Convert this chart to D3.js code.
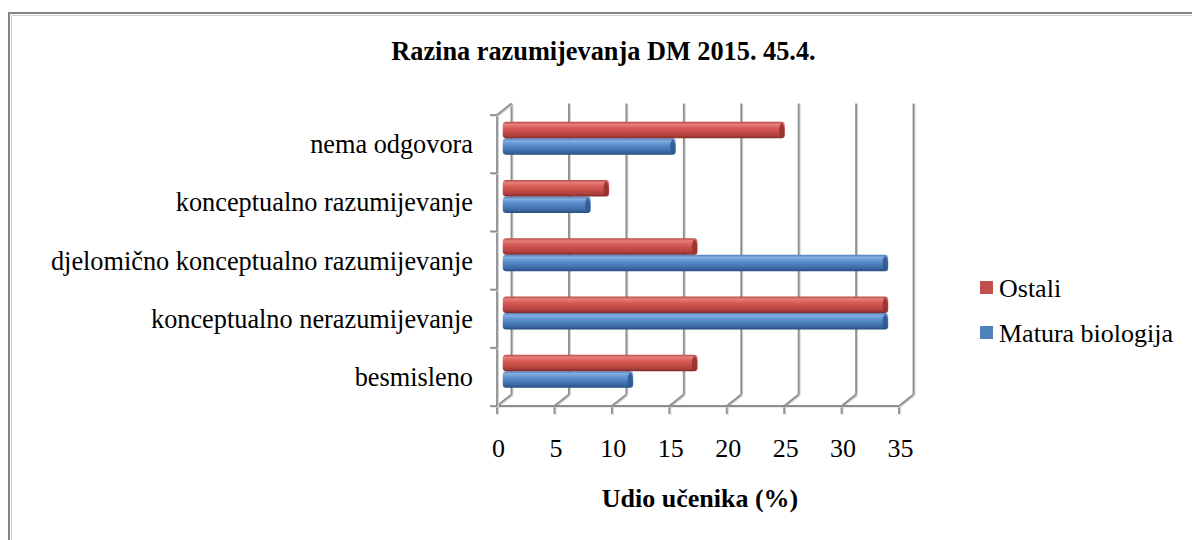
<!DOCTYPE html>
<html>
<head>
<meta charset="utf-8">
<script src="https://cdn.jsdelivr.net/npm/d3@7"></script>
<style>
  html, body { margin: 0; padding: 0; background: #ffffff; }
  svg { display: block; }
  text { font-family: 'Liberation Serif', 'Times New Roman', Times, serif; }
</style>
</head>
<body>
<svg id="chart" width="1192" height="540"></svg>
<script>
// Categories, bottom to top along the vertical axis
const categories = [
  "besmisleno",
  "konceptualno nerazumijevanje",
  "djelomično konceptualno razumijevanje",
  "konceptualno razumijevanje",
  "nema odgovora"
];
// Series values (% of students), same order as categories
const maturaBiologija = [11.1, 33.3, 33.3, 7.4, 14.8];
const ostali = [16.7, 33.3, 16.7, 9.0, 24.3];
const seriesNames = ["Matura biologija", "Ostali"];
const xTicks = [0, 5, 10, 15, 20, 25, 30, 35];

const title = "Razina razumijevanja DM 2015. 45.4.";
const xTitle = "Udio učenika (%)";

const FONT = "'Liberation Serif', 'Times New Roman', Times, serif";

const svg = d3.select("#chart").attr("font-family", FONT);

// outer frame
svg.append("rect")
  .attr("x", 9).attr("y", 13)
  .attr("width", 1200).attr("height", 560)
  .attr("fill", "#fff")
  .attr("stroke", "#858585").attr("stroke-width", 2);
svg.append("path")
  .attr("d", "M11,15.5H1192M11.5,15V540")
  .attr("stroke", "#cfcfcf").attr("stroke-width", 1).attr("fill", "none");

// plot geometry: front plane + depth offset for the back wall
const depth = { dx: 14.5, dy: -11.5 };
const x = d3.scaleLinear().domain([0, 35]).range([497, 899]);
const y = d3.scaleBand().domain(categories).range([406, 115]).padding(0);
const bw = y.bandwidth();
const yInner = d3.scaleBand().domain(seriesNames).range([bw / 2 + 16.5, bw / 2 - 16.5]);

const yTop = y.range()[1], yBot = y.range()[0];

// gradients for the bars (cylinder-like shading)
const defs = svg.append("defs");
const palettes = {
  "Ostali": ["#b84946", "#e5807c", "#da5f5b", "#c94e4a", "#ad403d", "#7f2a28"],
  "Matura biologija": ["#4e80bd", "#86aee0", "#6494d2", "#4b7dbb", "#3a67a0", "#264c7e"]
};
const stops = [0, 0.16, 0.34, 0.6, 0.84, 1];
const gradId = {};
Object.entries(palettes).forEach(([name, cols], i) => {
  const g = defs.append("linearGradient")
    .attr("id", "grad" + i).attr("x1", 0).attr("y1", 0).attr("x2", 0).attr("y2", 1);
  cols.forEach((c, j) => g.append("stop").attr("offset", stops[j]).attr("stop-color", c));
  gradId[name] = "grad" + i;
});
const capColor = { "Ostali": "#932f2c", "Matura biologija": "#2e5890" };
const legendColor = { "Ostali": "#c0504d", "Matura biologija": "#4f81bd" };

// gridlines and walls
const grid = svg.append("g").attr("fill", "none");
function gline(x1, y1, x2, y2) {
  grid.append("line").attr("x1", x1 + 1.2).attr("y1", y1 + 0.8).attr("x2", x2 + 1.2).attr("y2", y2 + 0.8)
    .attr("stroke", "#d4d4d4").attr("stroke-width", 1.6);
  grid.append("line").attr("x1", x1).attr("y1", y1).attr("x2", x2).attr("y2", y2)
    .attr("stroke", "#8e8e8e").attr("stroke-width", 1.8);
}
xTicks.forEach(v => {
  const xf = x(v), xb = x(v) + depth.dx;
  gline(xb, yTop + depth.dy, xb, yBot + depth.dy);      // back wall
  gline(xf, yBot, xb, yBot + depth.dy);                 // floor
  gline(xf, yBot, xf, yBot + 8);                        // tick
});
gline(x(0), yBot, x(35), yBot);
gline(x(0), yTop, x(0), yBot);
gline(x(0), yTop, x(0) + depth.dx, yTop + depth.dy);
categories.forEach(c => gline(x(0) - 7, y(c) + bw, x(0), y(c) + bw));
gline(x(0) - 7, yTop, x(0), yTop);

// bars, drawn at mid depth
const series = [
  { name: "Matura biologija", values: maturaBiologija },
  { name: "Ostali", values: ostali }
];
const bars = svg.append("g");
categories.forEach((c, ci) => {
  series.forEach(s => {
    const v = s.values[ci];
    const x0 = x(0) + depth.dx / 2 - 1.5;
    const x1 = x(v) + depth.dx / 2 + 1.5;
    const yb = y(c) + yInner(s.name) + depth.dy / 2;
    const h = yInner.bandwidth();
    const g = bars.append("g");
    g.append("rect")
      .attr("x", x0).attr("y", yb).attr("width", x1 - x0).attr("height", h)
      .attr("rx", 3.5).attr("ry", 3.5)
      .attr("fill", "url(#" + gradId[s.name] + ")");
    g.append("ellipse")
      .attr("cx", x1 - 3).attr("cy", yb + h / 2 + 0.5)
      .attr("rx", 2.6).attr("ry", h / 2 - 1)
      .attr("fill", capColor[s.name]).attr("opacity", 0.85);
  });
});

// category labels
svg.append("g").selectAll("text").data(categories).join("text")
  .attr("x", 473)
  .attr("y", d => y(d) + bw / 2 + 9)
  .attr("text-anchor", "end")
  .attr("font-family", FONT)
  .attr("font-size", 26.3)
  .attr("fill", "#000")
  .text(d => d);

// value tick labels
svg.append("g").selectAll("text").data(xTicks).join("text")
  .attr("x", d => x(d) + 1.5)
  .attr("y", 457)
  .attr("text-anchor", "middle")
  .attr("font-family", FONT)
  .attr("font-size", 26)
  .text(d => d);

// titles
svg.append("text")
  .attr("x", 603.5).attr("y", 59.5)
  .attr("text-anchor", "middle")
  .attr("font-family", FONT)
  .attr("font-size", 26.3).attr("font-weight", "bold")
  .text(title);
svg.append("text")
  .attr("x", 700).attr("y", 507)
  .attr("text-anchor", "middle")
  .attr("font-family", FONT)
  .attr("font-size", 26).attr("font-weight", "bold")
  .text(xTitle);

// legend (top series first)
const legendItems = ["Ostali", "Matura biologija"];
const lg = svg.append("g").selectAll("g").data(legendItems).join("g")
  .attr("transform", (d, i) => `translate(980, ${281 + i * 45})`);
lg.append("rect").attr("width", 13).attr("height", 13).attr("fill", d => legendColor[d]);
lg.append("text").attr("x", 19).attr("y", 15.5)
  .attr("font-family", FONT).attr("font-size", 26).text(d => d);
</script>
</body>
</html>
